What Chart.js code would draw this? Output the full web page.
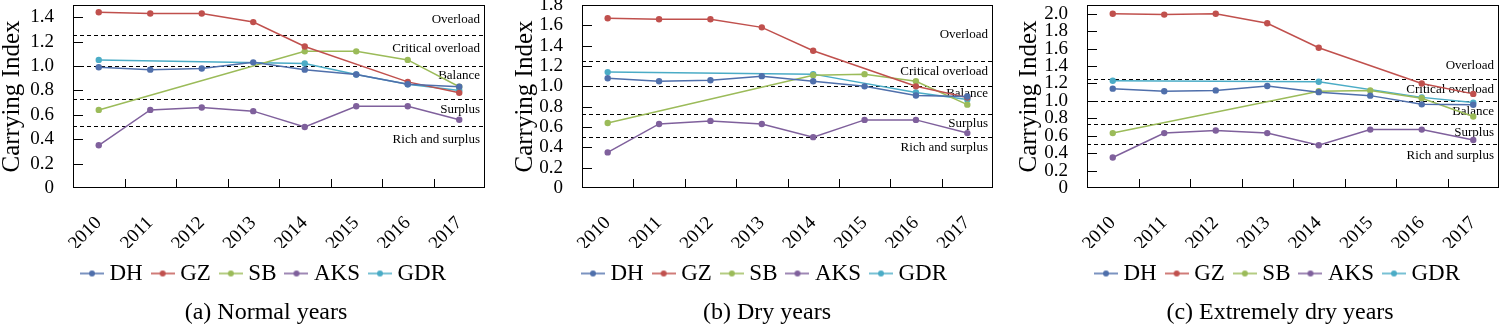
<!DOCTYPE html>
<html>
<head>
<meta charset="utf-8">
<script src="https://cdn.jsdelivr.net/npm/chart.js@4.4.1/dist/chart.umd.min.js"></script>
<style>
body { margin: 0; width: 1500px; height: 325px; overflow: hidden; background: #fff; position: relative; }
canvas { position: absolute; top: 0; }
</style>
</head>
<body>
<canvas id="chartA" width="532" height="325" style="left:0px"></canvas>
<canvas id="chartB" width="521" height="325" style="left:500px"></canvas>
<canvas id="chartC" width="543" height="325" style="left:1000px"></canvas>
<script>
const years = ['2010', '2011', '2012', '2013', '2014', '2015', '2016', '2017'];
const seriesNames = ['DH', 'GZ', 'SB', 'AKS', 'GDR'];
const seriesColors = ['#4f6fab', '#c0504d', '#9bbb59', '#7f609c', '#4bacc6'];

// (a) normal years
const dhNormal  = [0.99, 0.97, 0.98, 1.03, 0.97, 0.93, 0.85, 0.83];
const gzNormal  = [1.44, 1.43, 1.43, 1.36, 1.16, null, 0.87, 0.78];
const sbNormal  = [0.64, null, null, null, 1.12, 1.12, 1.05, 0.83];
const aksNormal = [0.35, 0.64, 0.66, 0.63, 0.50, 0.67, 0.67, 0.56];
const gdrNormal = [1.05, null, null, null, 1.02, 0.93, 0.85, 0.80];

// (b) dry years
const dhDry  = [1.08, 1.05, 1.06, 1.10, 1.05, 1.00, 0.91, 0.90];
const gzDry  = [1.67, 1.66, 1.66, 1.58, 1.35, null, 1.00, 0.89];
const sbDry  = [0.64, null, null, null, 1.11, 1.12, 1.05, 0.82];
const aksDry = [0.35, 0.63, 0.66, 0.63, 0.50, 0.67, 0.67, 0.54];
const gdrDry = [1.14, null, null, null, 1.12, null, 0.94, 0.87];

// (c) extremely dry years
const dhExtreme  = [1.14, 1.11, 1.12, 1.17, 1.10, 1.06, 0.96, 0.955];
const gzExtreme  = [2.00, 1.99, 2.00, 1.89, 1.61, null, 1.20, 1.08];
const sbExtreme  = [0.63, null, null, null, 1.11, 1.12, 1.03, 0.82];
const aksExtreme = [0.35, 0.63, 0.66, 0.63, 0.49, 0.67, 0.67, 0.55];
const gdrExtreme = [1.23, null, null, null, 1.22, null, 1.04, 0.98];

// zone boundaries and where the zone names sit
const thresholds = [1.25, 1.0, 0.73, 0.505];
const zoneNames = ['Overload', 'Critical overload', 'Balance', 'Surplus', 'Rich and surplus'];
const zoneLabelsNormal  = [1.38, 1.14, 0.925, 0.645, 0.40];
const zoneLabelsDry     = [1.51, 1.15, 0.93, 0.63, 0.40];
const zoneLabelsExtreme = [1.40, 1.135, 0.88, 0.64, 0.37];

const FONT = "'Liberation Serif', 'Times New Roman', serif";

// little line+dot icon for the legend
function legendIcon(color) {
    const c = document.createElement('canvas');
    c.width = 24; c.height = 10;
    const g = c.getContext('2d');
    g.strokeStyle = color;
    g.lineWidth = 1.5;
    g.beginPath(); g.moveTo(0, 5); g.lineTo(24, 5); g.stroke();
    g.fillStyle = color;
    g.beginPath(); g.arc(12, 5, 3, 0, Math.PI * 2); g.fill();
    return c;
}
const legendIcons = seriesColors.map(legendIcon);

// frame, inner ticks, dashed zone lines and zone names
const zonePlugin = {
    id: 'zones',
    beforeDatasetsDraw(chart) {
        const { ctx, chartArea: a, scales: { y } } = chart;
        const names = chart.options.plugins.zones.labels;
        ctx.save();
        ctx.strokeStyle = '#000';
        ctx.lineWidth = 1;
        ctx.setLineDash([4, 3]);
        thresholds.forEach(t => {
            const py = Math.round(y.getPixelForValue(t)) + 0.5;
            ctx.beginPath(); ctx.moveTo(a.left, py); ctx.lineTo(a.right, py); ctx.stroke();
        });
        ctx.setLineDash([]);
        ctx.fillStyle = '#000';
        ctx.font = '13px ' + FONT;
        ctx.textAlign = 'right';
        ctx.textBaseline = 'middle';
        zoneNames.forEach((n, i) => {
            ctx.fillText(n, a.right - 5, y.getPixelForValue(names[i]));
        });
        ctx.restore();
    },
    afterDatasetsDraw(chart) {
        const { ctx, chartArea: a, scales: { x, y } } = chart;
        ctx.save();
        ctx.strokeStyle = '#000';
        ctx.lineWidth = 1;
        ctx.strokeRect(Math.round(a.left) + 0.5, Math.round(a.top) + 0.5,
            Math.round(a.right - a.left) - 1, Math.round(a.bottom - a.top) - 1);
        const half = (x.getPixelForValue(1) - x.getPixelForValue(0)) / 2;
        ctx.beginPath();
        for (let i = 0; i < years.length - 1; i++) {
            const px = Math.round(x.getPixelForValue(i) + half) + 0.5;
            ctx.moveTo(px, a.bottom); ctx.lineTo(px, a.bottom - 9);
        }
        y.ticks.forEach(t => {
            if (t.value <= 0) return;
            const py = Math.round(y.getPixelForValue(t.value)) + 0.5;
            ctx.moveTo(a.left, py); ctx.lineTo(a.left + 10, py);
        });
        ctx.stroke();
        ctx.restore();
    }
};

function makePanel(id, series, yMax, zoneLabels, caption, axisWidth, padLeft, rightGap) {
    new Chart(document.getElementById(id), {
        type: 'line',
        data: {
            labels: years,
            datasets: series.map((vals, i) => ({
                label: seriesNames[i],
                data: vals,
                borderColor: seriesColors[i],
                backgroundColor: seriesColors[i],
                pointBackgroundColor: seriesColors[i],
                pointBorderWidth: 0,
                pointRadius: 3.2,
                borderWidth: 1.5,
                spanGaps: true,
                tension: 0
            }))
        },
        options: {
            responsive: false,
            animation: false,
            devicePixelRatio: 1,
            layout: { padding: { left: padLeft, right: 0, top: 5, bottom: 0 } },
            scales: {
                x: {
                    offset: true,
                    grid: { display: false },
                    border: { display: false },
                    ticks: {
                        color: '#000',
                        font: { family: FONT, size: 19 },
                        minRotation: 45, maxRotation: 45,
                        autoSkip: false,
                        padding: 16
                    },
                    afterFit(s) { s.height = 60; s.paddingLeft = 0; s.paddingRight = rightGap; }
                },
                y: {
                    min: 0,
                    max: yMax,
                    grid: { display: false },
                    border: { display: false },
                    ticks: {
                        stepSize: 0.2,
                        includeBounds: false,
                        padding: 11,
                        color: '#000',
                        font: { family: FONT, size: 19, lineHeight: 0.7 },
                        callback: v => (v === 0 ? '0' : v.toFixed(1))
                    },
                    title: {
                        display: true,
                        text: 'Carrying Index',
                        color: '#000',
                        font: { family: FONT, size: 25, lineHeight: 1 },
                        padding: 0
                    },
                    afterFit(s) { s.width = axisWidth; s.paddingTop = 0; s.paddingBottom = 0; }
                }
            },
            plugins: {
                zones: { labels: zoneLabels },
                tooltip: { enabled: false },
                legend: {
                    position: 'bottom',
                    labels: {
                        usePointStyle: true,
                        pointStyleWidth: 12,
                        boxHeight: 10,
                        padding: 14,
                        color: '#000',
                        font: { family: FONT, size: 23 },
                        generateLabels: chart => chart.data.datasets.map((ds, i) => ({
                            text: ds.label,
                            pointStyle: legendIcons[i],
                            fillStyle: ds.borderColor,
                            strokeStyle: ds.borderColor,
                            lineWidth: 0,
                            fontColor: '#000',
                            hidden: false,
                            datasetIndex: i
                        }))
                    }
                },
                title: {
                    display: true,
                    position: 'bottom',
                    text: caption,
                    color: '#000',
                    font: { family: FONT, size: 24, weight: 'normal', lineHeight: 1 },
                    padding: { top: 6, bottom: 0 }
                }
            }
        },
        plugins: [zonePlugin]
    });
}

makePanel('chartA', [dhNormal, gzNormal, sbNormal, aksNormal, gdrNormal], 1.5, zoneLabelsNormal,
    '(a) Normal years', 73, 0, 47);
makePanel('chartB', [dhDry, gzDry, sbDry, aksDry, gdrDry], 1.8, zoneLabelsDry,
    '(b) Dry years', 69, 13, 28);
makePanel('chartC', [dhExtreme, gzExtreme, sbExtreme, aksExtreme, gdrExtreme], 2.1, zoneLabelsExtreme,
    '(c) Extremely dry years', 70, 17, 44);
</script>
</body>
</html>
